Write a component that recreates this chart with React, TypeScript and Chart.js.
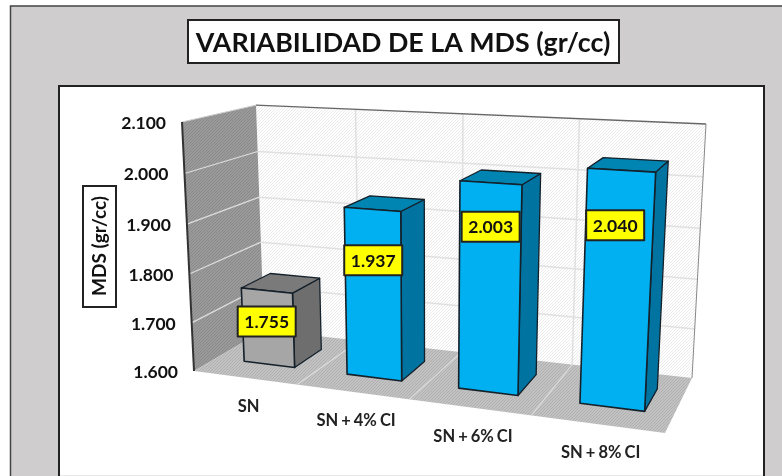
import React, { useEffect, useRef } from "react";
import { Chart, registerables } from "chart.js";

Chart.register(...registerables);

const categories = ["SN", "SN + 4% CI", "SN + 6% CI", "SN + 8% CI"];
const mdsValues = [1.755, 1.937, 2.003, 2.04];
const titleText = "VARIABILIDAD DE LA MDS (gr/cc)";
const yTitleText = "MDS (gr/cc)";
const yMin = 1.6;
const yMax = 2.1;
const yStep = 0.1;

const FONT = "Lato, Carlito, sans-serif";
type Pt = [number, number];

// Perspective of the 3-D box: floor corners plus three upper corners
const floorQuad: Pt[] = [[194, 371], [665, 433], [692, 378], [264, 330]];
const upperFrontLeft: Pt = [182, 122];
const upperBackLeft: Pt = [256, 102];
const upperBackRight: Pt = [706, 124];
const depthFront = 0.3;
const depthBack = 0.72;
const barShift = 0.008;
const labelDrops = [31, 51, 44, 55];
const labelShifts = [0, 1, 0, -6];
const frontColors = ["#A6A6A6", "#00B0F0", "#00B0F0", "#00B0F0"];
const topColors = ["#7A7A7A", "#0085B3", "#0085B3", "#0085B3"];
const sideColors = ["#6E6E6E", "#0073A0", "#0073A0", "#0073A0"];

function makeProjection() {
  const [[x0, y0], [x1, y1], [x2, y2], [x3, y3]] = floorQuad;
  const dx1 = x1 - x2, dx2 = x3 - x2, sx = x0 - x1 + x2 - x3;
  const dy1 = y1 - y2, dy2 = y3 - y2, sy = y0 - y1 + y2 - y3;
  const det = dx1 * dy2 - dx2 * dy1;
  const g = (sx * dy2 - dx2 * sy) / det;
  const h = (dx1 * sy - sx * dy1) / det;
  const a = x1 - x0 + g * x1, b = x3 - x0 + h * x3;
  const d = y1 - y0 + g * y1, e = y3 - y0 + h * y3;
  const [Ex, Ey] = upperFrontLeft;
  const [Fx] = upperBackLeft;
  const [Gx, Gy] = upperBackRight;
  const k = (b + Ex - Fx * (1 + h)) / (Fx - Ex);
  const p = Ex * (1 + k) - x0;
  const q = Ey * (1 + k) - y0;
  const denG = 1 + g + h + k;
  const rx = Gx * denG - (a + b + x0 + p);
  const ry = Gy * denG - (d + e + y0 + q);
  return (u: number, v: number, w: number): Pt => {
    const den = g * u + h * w + k * v + 1;
    return [
      (a * u + b * w + x0 + p * v + rx * u * v) / den,
      (d * u + e * w + y0 + q * v + ry * u * v) / den,
    ];
  };
}
const project = makeProjection();

function hatch(ctx: CanvasRenderingContext2D, base: string, line: string, size: number) {
  const c = document.createElement("canvas");
  c.width = c.height = size;
  const g = c.getContext("2d")!;
  g.fillStyle = base;
  g.fillRect(0, 0, size, size);
  g.strokeStyle = line;
  g.lineWidth = 1;
  g.beginPath();
  g.moveTo(-1, size + 1);
  g.lineTo(size + 1, -1);
  g.moveTo(-1, 1);
  g.lineTo(1, -1);
  g.moveTo(size - 1, size + 1);
  g.lineTo(size + 1, size - 1);
  g.stroke();
  return ctx.createPattern(c, "repeat")!;
}

function poly(ctx: CanvasRenderingContext2D, pts: Pt[], fill?: any, stroke?: string, lw = 1) {
  ctx.beginPath();
  pts.forEach((p, i) => (i ? ctx.lineTo(p[0], p[1]) : ctx.moveTo(p[0], p[1])));
  ctx.closePath();
  if (fill) {
    ctx.fillStyle = fill;
    ctx.fill();
  }
  if (stroke) {
    ctx.strokeStyle = stroke;
    ctx.lineWidth = lw;
    ctx.lineJoin = "round";
    ctx.stroke();
  }
}

function seg(ctx: CanvasRenderingContext2D, a: Pt, b: Pt, color: string, lw: number) {
  ctx.beginPath();
  ctx.moveTo(a[0], a[1]);
  ctx.lineTo(b[0], b[1]);
  ctx.strokeStyle = color;
  ctx.lineWidth = lw;
  ctx.stroke();
}

function box(ctx: CanvasRenderingContext2D, x: number, y: number, w: number, h: number, fill: string, lw = 2) {
  ctx.fillStyle = fill;
  ctx.fillRect(x, y, w, h);
  ctx.strokeStyle = "#222222";
  ctx.lineWidth = lw;
  ctx.strokeRect(x, y, w, h);
}

const chrome = {
  id: "chrome",
  beforeDraw(chart: any) {
    const ctx: CanvasRenderingContext2D = chart.ctx;
    ctx.save();
    ctx.fillStyle = "#FFFFFF";
    ctx.fillRect(0, 0, 782, 476);
    ctx.fillStyle = "#CFCDCE";
    ctx.fillRect(10, 6, 772, 470);
    ctx.strokeStyle = "#444444";
    ctx.lineWidth = 1.5;
    ctx.strokeRect(10.5, 6, 790, 490);
    box(ctx, 59, 86, 705, 400, "#FFFFFF", 2);
    ctx.fillStyle = "#E8E8E8";
    ctx.fillRect(60, 475, 703, 1);
    box(ctx, 188, 20, 431, 43, "#FFFFFF", 2);
    box(ctx, 83, 186, 33, 121, "#FFFFFF", 2);
    ctx.fillStyle = "#111111";
    ctx.textAlign = "center";
    ctx.textBaseline = "middle";
    ctx.font = `bold 26.8px ${FONT}`;
    ctx.fillText(titleText, 403, 43);
    ctx.save();
    ctx.translate(100, 246);
    ctx.rotate(-Math.PI / 2);
    ctx.font = `bold 19px ${FONT}`;
    ctx.fillText(yTitleText, 0, 0);
    ctx.restore();
    ctx.restore();
  },
  beforeDatasetsDraw(chart: any) {
    const ctx: CanvasRenderingContext2D = chart.ctx;
    const { x: xs, y: ys } = chart.scales;
    const area = chart.chartArea;
    ctx.save();
    const back = hatch(ctx, "#FFFFFF", "#EBEBEB", 3);
    const side = hatch(ctx, "#9A9A9A", "#8A8A8A", 3);
    const floor = hatch(ctx, "#C2C2C2", "#B0B0B0", 3);
    poly(ctx, [project(0, 0, 1), project(1, 0, 1), project(1, 1, 1), project(0, 1, 1)], back);
    poly(ctx, [project(0, 0, 0), project(0, 0, 1), project(0, 1, 1), project(0, 1, 0)], side);
    poly(ctx, [project(0, 0, 0), project(1, 0, 0), project(1, 0, 1), project(0, 0, 1)], floor);

    ys.ticks.forEach((t: any) => {
      const v = (area.bottom - ys.getPixelForValue(t.value)) / area.height;
      if (v > 0.001 && v < 0.999) {
        seg(ctx, project(0, v, 1), project(1, v, 1), "#E0E0E0", 1.5);
        seg(ctx, project(0, v, 0), project(0, v, 1), "#DDDDDD", 1.2);
      }
    });
    categories.forEach((_, i) => {
      if (i === 0) return;
      const u = (xs.getPixelForValue(i) - xs.getPixelForValue(i - 1)) / area.width * i;
      seg(ctx, project(u, 0, 1), project(u, 1, 1), "#E0E0E0", 1.5);
      seg(ctx, project(u, 0, 0), project(u, 0, 1), "#DCDCDC", 1.2);
    });

    seg(ctx, project(0, 1, 1), project(1, 1, 1), "#666666", 1.5);
    seg(ctx, project(1, 1, 1), project(1, 0, 1), "#888888", 1);
    seg(ctx, project(0, 1, 0), project(0, 1, 1), "#CCCCCC", 1);
    seg(ctx, project(0, 1, 0), project(0, 0, 0), "#333333", 2);

    ctx.fillStyle = "#111111";
    ctx.font = `bold 17.5px ${FONT}`;
    ctx.textAlign = "right";
    ctx.textBaseline = "middle";
    ys.ticks.forEach((t: any) => {
      const v = (area.bottom - ys.getPixelForValue(t.value)) / area.height;
      const p = project(0, v, 0);
      ctx.fillText(t.label, p[0] - 16, p[1] + 1);
    });
    ctx.fillStyle = "#222222";
    ctx.font = `bold 16.5px ${FONT}`;
    (ctx as any).wordSpacing = "-1px";
    ctx.textAlign = "center";
    categories.forEach((c, i) => {
      const u = (xs.getPixelForValue(i) - area.left) / area.width;
      const p = project(u, 0, 0);
      ctx.fillText(c, p[0] + 4, p[1] + 29);
    });
    (ctx as any).wordSpacing = "0px";
    ctx.restore();
  },
  beforeDatasetDraw() {
    return false;
  },
  afterDatasetsDraw(chart: any) {
    const ctx: CanvasRenderingContext2D = chart.ctx;
    const area = chart.chartArea;
    const meta = chart.getDatasetMeta(0);
    ctx.save();
    meta.data.forEach((bar: any, i: number) => {
      const u0 = (bar.x - bar.width / 2 - area.left) / area.width + barShift;
      const u1 = (bar.x + bar.width / 2 - area.left) / area.width + barShift;
      const v = (area.bottom - bar.y) / area.height;
      const [w0, w1] = [depthFront, depthBack];
      const edge = "#14202A";
      poly(ctx, [project(u1, 0, w0), project(u1, 0, w1), project(u1, v, w1), project(u1, v, w0)], sideColors[i], edge, 1.3);
      poly(ctx, [project(u0, v, w0), project(u1, v, w0), project(u1, v, w1), project(u0, v, w1)], topColors[i], edge, 1.3);
      poly(ctx, [project(u0, 0, w0), project(u1, 0, w0), project(u1, v, w0), project(u0, v, w0)], frontColors[i], edge, 1.6);
    });
    meta.data.forEach((bar: any, i: number) => {
      const uc = (bar.x - area.left) / area.width + barShift;
      const v = (area.bottom - bar.y) / area.height;
      const p = project(uc, v, depthFront);
      const cx = p[0] + labelShifts[i];
      const cy = p[1] + labelDrops[i];
      box(ctx, cx - 29, cy - 15, 58, 30, "#FFFF00", 2);
      ctx.fillStyle = "#111111";
      ctx.font = `bold 17.5px ${FONT}`;
      ctx.textAlign = "center";
      ctx.textBaseline = "middle";
      ctx.fillText(mdsValues[i].toFixed(3), cx, cy + 1);
    });
    ctx.restore();
  },
};

export default function App() {
  const ref = useRef<HTMLCanvasElement>(null);
  useEffect(() => {
    const chart = new Chart(ref.current!, {
      type: "bar",
      data: {
        labels: categories,
        datasets: [{ label: "MDS (gr/cc)", data: mdsValues, barPercentage: 0.5, categoryPercentage: 1 }],
      },
      options: {
        animation: false,
        responsive: false,
        layout: { padding: { left: 190, right: 90, top: 120, bottom: 60 } },
        plugins: { legend: { display: false }, tooltip: { enabled: false } },
        scales: {
          x: { ticks: { display: false, autoSkip: false }, grid: { display: false }, border: { display: false } },
          y: {
            min: yMin,
            max: yMax,
            ticks: { display: false, stepSize: yStep, callback: (v: any) => Number(v).toFixed(3) },
            grid: { display: false },
            border: { display: false },
          },
        },
      },
      plugins: [chrome],
    });
    return () => chart.destroy();
  }, []);
  return <canvas ref={ref} width={782} height={476} style={{ position: "absolute", left: 0, top: 0, display: "block" }} />;
}
